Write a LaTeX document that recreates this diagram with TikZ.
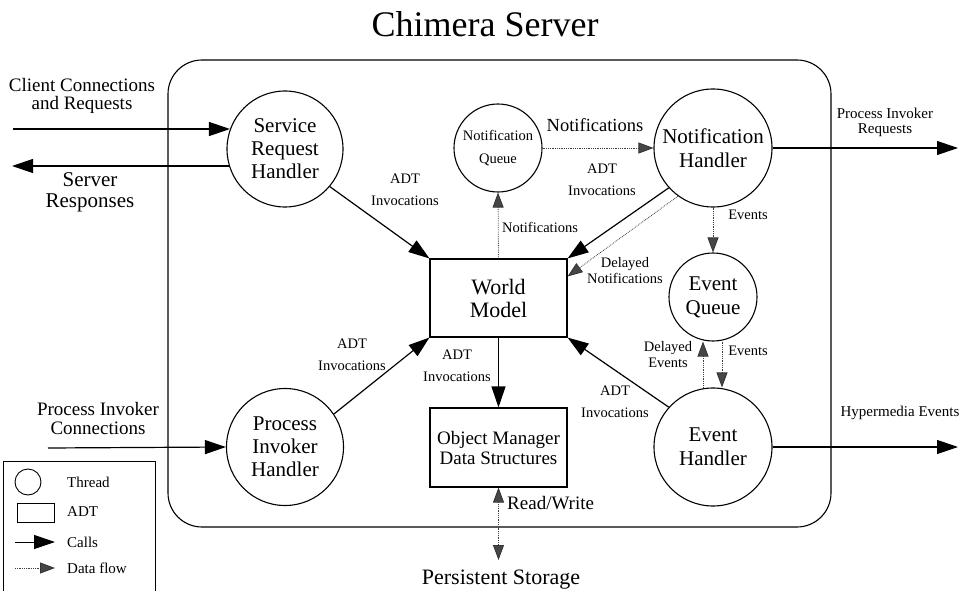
\documentclass[tikz,border=0pt]{standalone}
\usepackage{fontspec}
\setmainfont{Liberation Serif}
\usetikzlibrary{arrows.meta}
\newcommand{\fsz}[2]{\fontsize{#1}{#2}\selectfont}
\tikzset{
  thread/.style={draw, circle, line width=1.1pt, inner sep=0pt, align=center},
  adtbox/.style={draw, rectangle, line width=1.1pt, inner sep=0pt, align=center},
  lbl/.style={inner sep=0pt, align=center, font=\fsz{14.5}{22}},
  calls/.style={line width=1.2pt, -{Triangle[length=21pt,width=14pt]}},
  flow/.style={densely dotted, line width=0.8pt, gray!50!black, -{Triangle[length=15pt,width=11pt,color=gray!40!black,fill=gray!55!black]}},
}
\begin{document}
\begin{tikzpicture}[x=1pt,y=-1pt]
\useasboundingbox (0,0) rectangle (967,591);
\node[inner sep=0pt, font=\fsz{36}{40}] (title) at (485,24) {Chimera Server};
% server frame
\draw[line width=1.1pt, rounded corners=34pt] (168,60) rectangle (831,527);
% threads
\node[thread, minimum size=116pt, font=\fsz{21}{23}] (srh) at (285,149) {Service\\Request\\Handler};
\node[thread, minimum size=88pt, font=\fsz{14.5}{23}] (nq) at (498,148) {Notification\\Queue};
\node[thread, minimum size=118pt, font=\fsz{21}{24}] (nh) at (713,148) {Notification\\Handler};
\node[thread, minimum size=88pt, font=\fsz{21}{24}] (eq) at (713,297) {Event\\Queue};
\node[thread, minimum size=118pt, font=\fsz{21}{24}] (eh) at (713,447) {Event\\Handler};
\node[thread, minimum size=117pt, font=\fsz{21}{23}] (pih) at (285,447) {Process\\Invoker\\Handler};
% ADTs
\node[adtbox, minimum width=137pt, minimum height=78pt, font=\fsz{22}{23}] (wm) at (498.5,298) {World\\Model};
\node[adtbox, minimum width=137pt, minimum height=79pt, font=\fsz{19}{20}] (om) at (498.5,447.5) {Object Manager\\Data Structures};
% outside ends
\coordinate (cin) at (13,129);
\coordinate (cout) at (12,166);
\coordinate (pic) at (48,448);
\coordinate (pir) at (958,148);
\coordinate (hyp) at (958,447);
\coordinate (store) at (498.5,560);
% calls
\draw[calls] (cin) -- (cin -| srh.160);
\draw[calls] (cout -| srh.197) -- (cout);
\draw[calls] (pic) -- (pih.west);
\draw[calls] (nh.east) -- (pir);
\draw[calls] (eh.east) -- (hyp);
\draw[calls] (srh.-40) -- (wm.north west);
\draw[calls] (nh.222) -- (wm.north east);
\draw[calls] (pih.34) -- (wm.south west);
\draw[calls] (eh.138) -- (wm.south east);
\draw[calls] (wm.south) -- (om.north);
% data flow
\draw[flow] (nq.east) -- (nh.west);
\draw[flow] (wm.north) -- (nq.south);
\draw[flow] (nh.234) -- ([yshift=-18pt]wm.north east);
\draw[flow] (nh.south) -- (eq.north);
\draw[flow] ([xshift=-10pt]eh.north) -- ([xshift=-10pt]eq.south);
\draw[flow] ([xshift=9pt]eq.south) -- ([xshift=9pt]eh.north);
\draw[flow, {Triangle[length=15pt,width=11pt,color=gray!40!black,fill=gray!55!black]}-{Triangle[length=15pt,width=11pt,color=gray!40!black,fill=gray!55!black]}] (om.south) -- (store);
% labels
\node[lbl, font=\fsz{19}{18}] (lclient) at (82,96) {Client Connections\\and Requests};
\node[lbl, font=\fsz{21}{21}] (lresp) at (90,192) {Server\\Responses};
\node[lbl, font=\fsz{19}{19}] (lpicon) at (98,418) {Process Invoker\\Connections};
\node[lbl, font=\fsz{15}{15}] (lpireq) at (885,122) {Process Invoker\\Requests};
\node[lbl, font=\fsz{15}{15}] (lhyp) at (900,413) {Hypermedia Events};
\node[lbl] (ladt1) at (405,190) {ADT\\Invocations};
\node[lbl, font=\fsz{18.5}{20}] (lnotif) at (595,125) {Notifications};
\node[lbl] (ladt2) at (602,180) {ADT\\Invocations};
\node[lbl, anchor=west] (lnotup) at (502,227) {Notifications};
\node[lbl, font=\fsz{14.5}{16}] (ldelnot) at (625,271) {Delayed\\Notifications};
\node[lbl] (levt1) at (748,215) {Events};
\node[lbl, font=\fsz{14.5}{16}] (ldelevt) at (668,355) {Delayed\\Events};
\node[lbl] (levt2) at (748,351) {Events};
\node[lbl] (ladt3) at (615,402) {ADT\\Invocations};
\node[lbl] (ladt4) at (457,366) {ADT\\Invocations};
\node[lbl] (ladt5) at (352,355) {ADT\\Invocations};
\node[lbl, anchor=west, font=\fsz{19}{20}] (lrw) at (507,503) {Read/Write};
\node[inner sep=0pt, anchor=base, font=\fsz{22}{24}] (lstore) at (501,584) {Persistent Storage};
% legend
\draw[line width=0.8pt] (3,592) |- (155,461) -- (155,592);
\node[draw, circle, line width=0.9pt, minimum size=26pt, inner sep=0pt] (legthr) at (28,482) {};
\node[draw, rectangle, line width=0.9pt, minimum width=37pt, minimum height=19pt, inner sep=0pt] (legadt) at (35.5,512.5) {};
\coordinate (legc1) at (15,542);
\coordinate (legc2) at (55,542);
\coordinate (legf1) at (15,568);
\coordinate (legf2) at (55,568);
\draw[calls, line width=1pt] (legc1) -- (legc2);
\draw[flow] (legf1) -- (legf2);
\node[lbl, anchor=west, font=\fsz{15}{16}] (legt1) at (67,482) {Thread};
\node[lbl, anchor=west, font=\fsz{15}{16}] (legt2) at (67,512) {ADT};
\node[lbl, anchor=west, font=\fsz{15}{16}] (legt3) at (67,542) {Calls};
\node[lbl, anchor=west, font=\fsz{15}{16}] (legt4) at (67,568) {Data flow};
\end{tikzpicture}
\end{document}
